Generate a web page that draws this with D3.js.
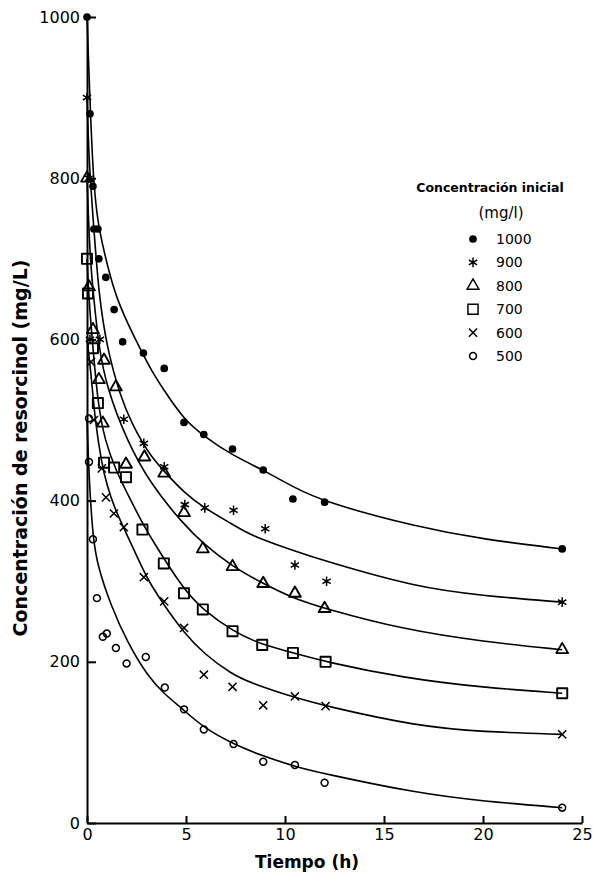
<!DOCTYPE html>
<html>
<head>
<meta charset="utf-8">
<script src="https://cdn.jsdelivr.net/npm/d3@7"></script>
<style>
  body { margin: 0; background: #fff; }
  svg { display: block; }
  .axis text { font-family: "DejaVu Sans", sans-serif; font-size: 16px; fill: #000; }
  .axis path, .axis line { stroke: #000; stroke-width: 2px; }
</style>
</head>
<body>
<div id="chart"></div>
<script>
// measured points, [tiempo (h), concentracion (mg/L)]
var pts1000 = [[0,1000],[0.15,880],[0.3,790],[0.35,737],[0.55,737],[0.6,700],[0.95,677],[1.37,637],[1.8,597],[2.85,583],[3.9,564],[4.9,497],[5.9,482],[7.35,464],[8.9,438],[10.4,402],[12,398],[24,340]];
var pts900 = [[0,900],[0.1,800],[0.15,600],[0.65,600],[1.86,501],[2.87,471],[3.9,442],[4.94,395],[5.95,391],[7.4,388],[9,365],[10.5,320],[12.1,300],[24,274]];
var pts800 = [[0,800],[0.1,665],[0.3,612],[0.86,574],[0.6,550],[1.46,541],[0.8,496],[1.97,445],[2.9,454],[3.9,434],[4.9,385],[5.85,340],[7.35,318],[8.9,297],[10.5,285],[12,266],[24,215]];
var pts700 = [[0,700],[0.05,657],[0.3,589],[0.55,521],[0.86,447],[1.37,441],[1.97,429],[2.8,364],[3.88,322],[4.9,285],[5.85,265],[7.35,238],[8.85,221],[10.4,211],[12.05,200],[24,161]];
var pts600 = [[0.2,572],[0.35,500],[0.75,440],[0.96,404],[1.36,384],[1.86,367],[2.87,305],[3.9,275],[4.9,242],[5.9,184],[7.35,169],[8.9,146],[10.5,157],[12.05,145],[24,110]];
var pts500 = [[0.1,502],[0.1,448],[0.3,352],[0.5,279],[0.8,231],[1.0,235],[1.46,217],[2.0,198],[2.97,206],[3.93,168],[4.9,141],[5.9,116],[7.4,98],[8.9,76],[10.5,72],[12,50],[24,19]];

// fitted curves
var fit1000 = [[0,1000],[0.3,790],[0.6,735],[1.21,674],[1.6,645],[2.2,612],[2.8,583],[3.22,563],[3.88,537],[4.89,501],[5.9,480],[7.35,456],[8.9,438],[10.4,417],[12,398],[16.7,367],[20,352],[24,340]];
var fit900 = [[0,900],[0.1,820],[0.35,736],[0.6,655],[1.0,590],[1.7,528],[2.3,494],[2.87,469],[3.22,456],[3.9,436],[4.9,410],[5.9,391],[7.4,370],[8.26,357],[10.3,339],[12,325],[16.7,292],[20,282],[24,274]];
var fit800 = [[0,800],[0.15,700],[0.35,649],[0.6,590],[1.0,540],[2.0,475],[3.22,420],[4.9,370],[5.85,347],[7.35,318],[8.9,297],[10.3,280],[12,266],[16,240],[20,225],[24,215]];
var fit700 = [[0,700],[0.1,649],[0.3,589],[0.55,521],[0.9,474],[1.5,435],[2.2,401],[2.8,372],[3.22,354],[4.89,289],[5.85,265],[7.35,238],[8.85,221],[10.3,212],[12,200],[16,180],[20,168],[24,161]];
var fit600 = [[0,600],[0.2,560],[0.4,500],[0.75,445],[1.0,420],[1.4,390],[1.9,364],[2.87,312],[3.22,296],[3.9,270],[4.9,236],[5.9,210],[7.35,184],[8.26,174],[10.3,157],[12.05,145],[16.7,120],[20,113],[24,110]];
var fit500 = [[0,500],[0.1,430],[0.3,352],[0.55,318],[1.2,270],[2.06,223],[3.07,182],[3.9,160],[4.9,140],[5.9,118],[7.4,98],[8.77,84],[10.5,70],[12,61],[16.7,37],[20,27],[24,19]];

var xTicks = [0,5,10,15,20,25];
var yTicks = [0,200,400,600,800,1000];
var legendLabels = ["1000","900","800","700","600","500"];

var width = 593, height = 881;

var x = d3.scaleLinear().domain([0,25]).range([87,582]);
var y = d3.scaleLinear().domain([0,1000]).range([823,17]);

var svg = d3.select("#chart").append("svg")
    .attr("width", width)
    .attr("height", height);

// symbols for each series
var sym = {
  dot:  d3.symbol().type(d3.symbolCircle).size(30),
  star: d3.symbol().type(d3.symbolAsterisk).size(64),
  tri:  d3.symbol().type(d3.symbolTriangle2).size(100),
  sq:   d3.symbol().type(d3.symbolSquare2).size(130),
  cross: d3.symbol().type(d3.symbolTimes).size(45),
  ring: d3.symbol().type(d3.symbolCircle).size(38)
};
var series = [
  {pts: pts1000, fit: fit1000, s: "dot", fill: true},
  {pts: pts900, fit: fit900, s: "star", fill: false},
  {pts: pts800, fit: fit800, s: "tri", fill: false},
  {pts: pts700, fit: fit700, s: "sq", fill: false},
  {pts: pts600, fit: fit600, s: "cross", fill: false},
  {pts: pts500, fit: fit500, s: "ring", fill: false}
];

// curves
var line = d3.line()
    .x(function(d) { return x(d[0]); })
    .y(function(d) { return y(d[1]); })
    .curve(d3.curveBasis);

series.forEach(function(sr) {
  svg.append("path")
    .datum(sr.fit)
    .attr("d", line)
    .attr("fill", "none")
    .attr("stroke", "#000")
    .attr("stroke-width", 1.6);
});

// axes
svg.append("g")
    .attr("class", "axis")
    .attr("transform", "translate(0," + y(0) + ")")
    .call(d3.axisBottom(x).tickValues(xTicks).tickSizeInner(-7).tickSizeOuter(0).tickPadding(6));
svg.append("g")
    .attr("class", "axis")
    .attr("transform", "translate(" + x(0) + ",0)")
    .call(d3.axisLeft(y).tickValues(yTicks).tickFormat(d3.format("d")).tickSizeInner(-9).tickSizeOuter(0).tickPadding(7));

// markers
series.forEach(function(sr) {
  svg.selectAll(null)
    .data(sr.pts)
    .enter().append("path")
    .attr("transform", function(d) { return "translate(" + x(d[0]) + "," + y(d[1]) + ")"; })
    .attr("d", sym[sr.s])
    .attr("fill", sr.fill ? "#000" : "#fff")
    .attr("fill-opacity", sr.fill ? 1 : 0)
    .attr("stroke", "#000")
    .attr("stroke-width", sr.s == "sq" || sr.s == "tri" ? 1.9 : 1.5)
    .attr("stroke-linejoin", "round");
});

// axis titles
svg.append("text")
    .attr("x", 307)
    .attr("y", 868)
    .attr("text-anchor", "middle")
    .style("font-family", "DejaVu Sans, sans-serif")
    .style("font-weight", "bold")
    .style("font-size", "17px")
    .text("Tiempo (h)");
svg.append("text")
    .attr("transform", "translate(27,448)rotate(-90)")
    .attr("text-anchor", "middle")
    .style("font-family", "DejaVu Sans, sans-serif")
    .style("font-weight", "bold")
    .style("font-size", "19px")
    .text("Concentración de resorcinol (mg/L)");

// legend
var lg = svg.append("g");
lg.append("text")
    .attr("x", 490).attr("y", 192)
    .attr("text-anchor", "middle")
    .style("font-family", "DejaVu Sans, sans-serif")
    .style("font-weight", "bold")
    .style("font-size", "12.5px")
    .text("Concentración inicial");
lg.append("text")
    .attr("x", 501).attr("y", 218)
    .attr("text-anchor", "middle")
    .style("font-family", "DejaVu Sans, sans-serif")
    .style("font-size", "15px")
    .text("(mg/l)");
var rowY = d3.scalePoint().domain(legendLabels).range([239,356]);
legendLabels.forEach(function(lab, i) {
  var sr = series[i];
  lg.append("path")
    .attr("transform", "translate(473," + rowY(lab) + ")")
    .attr("d", sym[sr.s])
    .attr("fill", sr.fill ? "#000" : "none")
    .attr("stroke", "#000")
    .attr("stroke-width", 1.5);
  lg.append("text")
    .attr("x", 496).attr("y", rowY(lab) + 5)
    .style("font-family", "DejaVu Sans, sans-serif")
    .style("font-size", "14px")
    .text(lab);
});
</script>
</body>
</html>
